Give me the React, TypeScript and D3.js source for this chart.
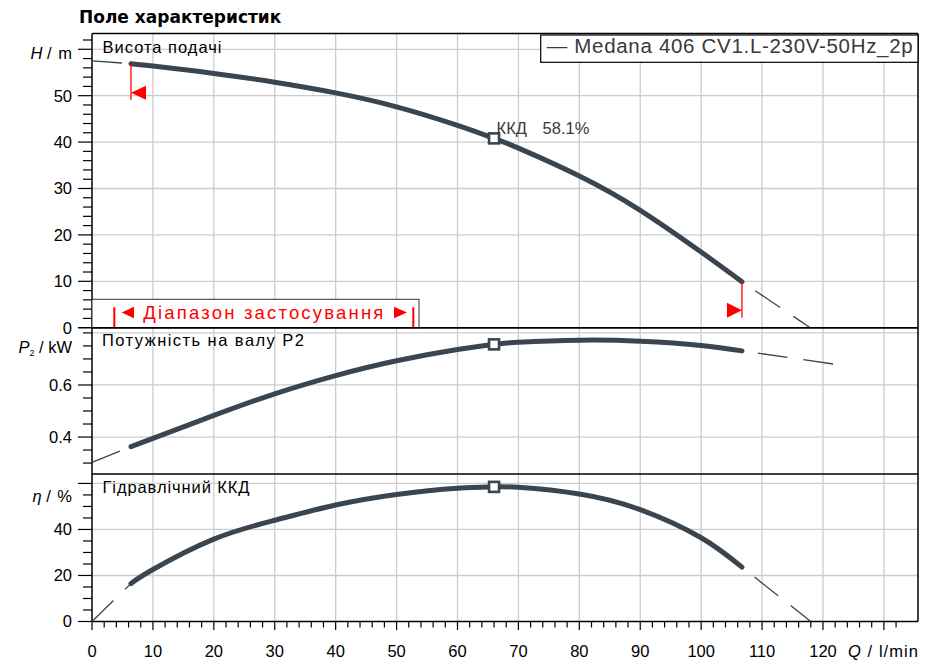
import * as d3 from 'd3'

const W = 933
const H = 664

// operating curve, Q in l/min
const flowPts = [6.4, 10, 20, 30, 40, 50, 60, 66, 70, 80, 90, 100, 106.7]
const headVals = [56.9, 56.4, 54.8, 52.9, 50.6, 47.6, 43.6, 40.8, 38.7, 32.7, 25.3, 16.3, 9.9]
const powerVals = [0.363, 0.395, 0.483, 0.566, 0.636, 0.693, 0.736, 0.756, 0.764, 0.772, 0.768, 0.752, 0.731]
const effVals = [16.5, 22.6, 35.8, 44.0, 50.6, 55.2, 57.9, 58.5, 58.3, 55.4, 48.6, 36.4, 23.6]

// dashed parts outside of the operating range
const extLeftQ = [0, 6.4]
const headExtL = [57.5, 56.9]
const powerExtL = [0.303, 0.363]
const effExtL = [0, 16.5]
const headExtRQ = [106.7, 117.9]
const headExtR = [9.9, 0]
const powerExtRQ = [106.7, 122.4]
const powerExtR = [0.731, 0.678]
const effExtRQ = [106.7, 118]
const effExtR = [23.6, 0]

const bepQ = 66
const bepHead = 40.8
const bepPower = 0.756
const bepEff = 58.5
const bepLabel = 'ККД'
const bepValue = '58.1%'

const rangeMinQ = 6.4
const rangeMaxQ = 106.7

const qLabels = [0, 10, 20, 30, 40, 50, 60, 70, 80, 90, 100, 110, 120]
const qGrid = [10, 20, 30, 40, 50, 60, 70, 80, 90, 100, 110, 120, 130]
const headLabels = [0, 10, 20, 30, 40, 50]
const headGrid = [10, 20, 30, 40, 50, 60]
const powerLabels = [0.4, 0.6]
const powerGrid = [0.4, 0.6, 0.8]
const effLabels = [0, 20, 40]
const effGrid = [20, 40, 60]

const legendText = '— Medana 406 CV1.L-230V-50Hz_2p'

const LEFT = 92
const RIGHT = 918
const TOP = 33.5
const SEP1 = 327.7
const SEP2 = 474
const BOTTOM = 621.5

const CURVE = '#3b4550'
const GRID = '#cccccc'
const RED = '#ff0000'
const FONT = '"Liberation Sans", Arial, sans-serif'

const x = d3.scaleLinear().domain([0, 135.6]).range([LEFT, RIGHT])
const yH = d3.scaleLinear().domain([0, 63.4]).range([SEP1, TOP])
const yP = d3.scaleLinear().domain([0.258, 0.82]).range([SEP2, SEP1])
const yE = d3.scaleLinear().domain([0, 64.1]).range([BOTTOM, SEP2])

const path = (qs: number[], vs: number[], y: d3.ScaleLinear<number, number>, smooth = true) => {
  const line = d3.line<number>()
    .x((_d, i) => x(qs[i]))
    .y(d => y(d))
  if (smooth) line.curve(d3.curveNatural)
  return line(vs) ?? ''
}

function YTicks({ y, step, from, to, majors }: {
  y: d3.ScaleLinear<number, number>; step: number; from: number; to: number; majors: number[]
}) {
  const ticks = d3.range(from, to + step / 2, step).map(v => +v.toFixed(3))
  return (
    <g stroke="#000" strokeWidth={1.2}>
      {ticks.map(v => {
        const major = majors.some(m => Math.abs(m - v) < 1e-6)
        return <line key={v} x1={major ? LEFT - 14 : LEFT - 9} x2={LEFT} y1={y(v)} y2={y(v)} />
      })}
    </g>
  )
}

export default function App() {
  const qMinor = d3.range(0, 134, 2)
  const hFirst = yH(headVals[0])
  const hLast = yH(headVals[headVals.length - 1])

  return (
    <svg width={W} height={H} viewBox={`0 0 ${W} ${H}`}
      style={{ position: 'absolute', left: 0, top: 0, background: '#fff' }}
      fontFamily={FONT}>
      <rect width={W} height={H} fill="#fff" />

      <text x={79} y={23.3} fontFamily='"DejaVu Sans", Verdana, sans-serif' fontWeight="bold" fontSize={17} fill="#000">
        Поле характеристик
      </text>

      {/* grid */}
      <g stroke={GRID} strokeWidth={1.3}>
        {qGrid.map(q => <line key={q} x1={x(q)} x2={x(q)} y1={TOP} y2={BOTTOM} />)}
        {headGrid.map(v => <line key={'h' + v} x1={LEFT} x2={RIGHT} y1={yH(v)} y2={yH(v)} />)}
        {powerGrid.map(v => <line key={'p' + v} x1={LEFT} x2={RIGHT} y1={yP(v)} y2={yP(v)} />)}
        {effGrid.map(v => <line key={'e' + v} x1={LEFT} x2={RIGHT} y1={yE(v)} y2={yE(v)} />)}
      </g>

      {/* panel frames */}
      <g stroke="#000" strokeWidth={1.5} fill="none">
        <line x1={LEFT} x2={RIGHT} y1={TOP} y2={TOP} />
        <line x1={LEFT} x2={RIGHT} y1={SEP1} y2={SEP1} />
        <line x1={LEFT} x2={RIGHT} y1={SEP2} y2={SEP2} />
        <line x1={LEFT} x2={RIGHT} y1={BOTTOM} y2={BOTTOM} />
        <line x1={LEFT} x2={LEFT} y1={TOP} y2={BOTTOM} />
        <line x1={RIGHT} x2={RIGHT} y1={TOP} y2={BOTTOM} />
      </g>

      {/* y ticks */}
      <YTicks y={yH} step={2} from={0} to={62} majors={[0, 10, 20, 30, 40, 50, 60]} />
      <YTicks y={yP} step={0.05} from={0.3} to={0.8} majors={[0.4, 0.6]} />
      <YTicks y={yE} step={5} from={0} to={60} majors={[0, 20, 40, 60]} />

      {/* x ticks */}
      <g stroke="#000" strokeWidth={1.2}>
        {qMinor.map(q => (
          <line key={q} x1={x(q)} x2={x(q)} y1={BOTTOM} y2={BOTTOM + (q % 10 === 0 ? 8.5 : 6)} />
        ))}
      </g>

      <g fontSize={16.5} fill="#000">
        {headLabels.map(v => <text key={'hl' + v} x={72} y={yH(v)} dy="0.36em" textAnchor="end">{v}</text>)}
        {powerLabels.map(v => <text key={'pl' + v} x={72} y={yP(v)} dy="0.36em" textAnchor="end">{v.toFixed(1)}</text>)}
        {effLabels.map(v => <text key={'el' + v} x={72} y={yE(v)} dy="0.36em" textAnchor="end">{v}</text>)}
        {qLabels.map(q => <text key={'ql' + q} x={x(q)} y={657} textAnchor="middle">{q}</text>)}

        <text x={72} y={59} textAnchor="end">
          <tspan fontStyle="italic">H</tspan><tspan> / </tspan><tspan dx={2}>m</tspan>
        </text>
        <text x={72} y={353} textAnchor="end">
          <tspan fontStyle="italic">P</tspan><tspan fontSize={9} dy={3}>2</tspan><tspan dy={-3}> / kW</tspan>
        </text>
        <text x={72} y={501.5} textAnchor="end">
          <tspan fontStyle="italic">η</tspan><tspan> / </tspan><tspan dx={2}>%</tspan>
        </text>
        <text x={848} y={657} textLength={70} lengthAdjust="spacing">
          <tspan fontStyle="italic">Q</tspan><tspan> / l/min</tspan>
        </text>

        <text x={102.5} y={52.5} textLength={119} lengthAdjust="spacing">Висота подачі</text>
        <text x={102} y={345.5} textLength={202} lengthAdjust="spacing">Потужність на валу  P2</text>
        <text x={102.5} y={493} textLength={147} lengthAdjust="spacing">Гідравлічний ККД</text>
      </g>

      {/* legend */}
      <rect x={540.7} y={35} width={RIGHT - 540.7} height={27.3} fill="#fff" stroke="#000" strokeWidth={1.2} />
      <text x={546.7} y={53.3} fontSize={20.5} fill="#3a3a3a" textLength={366} lengthAdjust="spacing">{legendText}</text>

      {/* dashed extrapolations */}
      <g stroke={CURVE} strokeWidth={1.3} fill="none" strokeDasharray="30 16">
        <path d={path(extLeftQ, headExtL, yH, false)} />
        <path d={path(extLeftQ, powerExtL, yP, false)} />
        <path d={path(extLeftQ, effExtL, yE, false)} />
        <path d={path(headExtRQ, headExtR, yH, false)} strokeDashoffset={30} />
        <path d={path(powerExtRQ, powerExtR, yP, false)} strokeDashoffset={30} />
        <path d={path(effExtRQ, effExtR, yE, false)} strokeDashoffset={30} />
      </g>

      {/* main curves */}
      <g stroke={CURVE} strokeWidth={5} fill="none" strokeLinecap="round" strokeLinejoin="round">
        <path d={path(flowPts, headVals, yH)} />
        <path d={path(flowPts, powerVals, yP)} />
        <path d={path(flowPts, effVals, yE)} />
      </g>

      {/* best efficiency point */}
      <g fill="#fff" stroke={CURVE} strokeWidth={2.6}>
        <rect x={x(bepQ) - 5} y={yH(bepHead) - 5} width={10} height={10} />
        <rect x={x(bepQ) - 5} y={yP(bepPower) - 5} width={10} height={10} />
        <rect x={x(bepQ) - 5} y={yE(bepEff) - 5} width={10} height={10} />
      </g>
      <g fontSize={16.5} fill="#3a3a3a">
        <text x={x(bepQ) + 2.5} y={134}>{bepLabel}</text>
        <text x={x(bepQ) + 48.5} y={134}>{bepValue}</text>
      </g>

      {/* operating range limits */}
      <g>
        <line x1={x(rangeMinQ)} x2={x(rangeMinQ)} y1={hFirst} y2={hFirst + 36} stroke={RED} strokeWidth={1.3} />
        <polygon fill={RED} points={`${x(rangeMinQ)},${hFirst + 29} ${x(rangeMinQ) + 15},${hFirst + 22} ${x(rangeMinQ) + 15},${hFirst + 36}`} />
        <line x1={x(rangeMaxQ)} x2={x(rangeMaxQ)} y1={hLast} y2={hLast + 36} stroke={RED} strokeWidth={1.3} />
        <polygon fill={RED} points={`${x(rangeMaxQ)},${hLast + 28.5} ${x(rangeMaxQ) - 15},${hLast + 21} ${x(rangeMaxQ) - 15},${hLast + 36}`} />
      </g>

      {/* application range box */}
      <g>
        <rect x={LEFT} y={299.3} width={419 - LEFT} height={SEP1 - 299.3} fill="#fff" stroke="#333" strokeWidth={1} />
        <line x1={LEFT} x2={RIGHT} y1={SEP1} y2={SEP1} stroke="#000" strokeWidth={1.5} />
        <line x1={114.3} x2={114.3} y1={307.3} y2={327} stroke={RED} strokeWidth={2} />
        <polygon fill={RED} points="121.7,312.5 134,306.7 134,318.3" />
        <text x={143.3} y={318.5} fontSize={18.5} fill={RED} textLength={240} lengthAdjust="spacing">Діапазон застосування</text>
        <polygon fill={RED} points="407,312.5 394,306.7 394,318.3" />
        <line x1={413.3} x2={413.3} y1={307.3} y2={327} stroke={RED} strokeWidth={2} />
        <line x1={LEFT - 14} x2={LEFT} y1={SEP1} y2={SEP1} stroke="#000" strokeWidth={1.2} />
      </g>
    </svg>
  )
}
